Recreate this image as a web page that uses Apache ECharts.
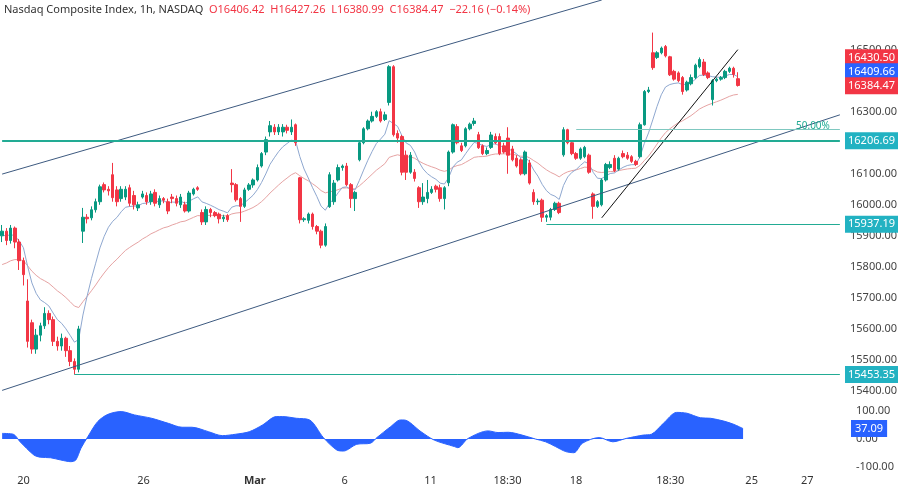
<!DOCTYPE html>
<html><head><meta charset="utf-8">
<script src="https://cdn.jsdelivr.net/npm/echarts@6/dist/echarts.min.js"></script>
<style>html,body{margin:0;padding:0;background:#fff}#c{width:900px;height:487px}</style>
</head><body><div id="c"></div>
<script>
// candles: [open, close, low, high]
const candles = [
[15900,15915,15880,15935],[15915,15885,15870,15925],[15885,15925,15875,15935],[15925,15880,15860,15930],
[15880,15820,15790,15890],[15820,15775,15740,15830],[15690,15560,15540,15760],[15620,15535,15520,15630],
[15535,15580,15520,15600],[15580,15610,15560,15620],[15610,15650,15600,15670],[15650,15630,15615,15660],
[15630,15560,15545,15640],[15560,15545,15530,15575],[15545,15570,15530,15585],[15570,15530,15510,15575],
[15530,15495,15480,15545],[15495,15470,15453,15505],[15470,15600,15460,15610],
[15915,15960,15877,15990],[15960,15955,15940,15970],[15958,15984,15950,15995],[15984,16010,15975,16020],
[16010,16058,16000,16065],[16065,16048,16040,16072],[16050,16045,16030,16060],[16097,16023,16010,16135],
[16048,16010,15995,16060],[16020,16050,16010,16060],[16025,16050,16015,16060],[16055,16005,15995,16065],
[16030,16000,15985,16045],[15990,16000,15980,16010],[16025,16035,16020,16045],[16030,16010,16000,16040],
[16010,16035,16000,16045],[16040,16005,15995,16050],[16000,16020,15990,16030],[16020,16015,16005,16025],
[16010,15980,15970,16020],[16025,16020,16005,16035],[16020,16005,15995,16030],[16000,16025,15990,16035],
[16000,15980,15975,16010],[15980,16038,15975,16045],[16035,16050,16030,16055],[16055,16050,16045,16060],
[15975,15945,15935,15985],[15945,15985,15935,15995],[15985,15975,15960,15990],[15975,15965,15960,15980],
[15970,15955,15940,15975],[15955,15960,15945,15968],[15965,15952,15945,15970],[16070,16065,16040,16115],
[16065,16016,16010,16070],[16020,15995,15945,16025],[15995,16048,15990,16055],[16050,16064,16045,16070],
[16064,16080,16055,16085],[16080,16120,16075,16130],[16125,16165,16120,16170],[16170,16210,16160,16220],
[16235,16255,16220,16270],[16250,16235,16225,16260],[16235,16250,16225,16260],[16235,16250,16220,16260],
[16250,16240,16230,16258],[16235,16250,16225,16275],[16258,16200,16190,16262],[16087,15952,15940,16090],
[15952,15955,15945,15960],[15950,15970,15940,15975],[15970,15930,15920,15975],[15930,15915,15905,15935],
[15915,15870,15860,15920],[15870,15930,15865,15940],[15994,16097,15990,16105],[16010,16070,16000,16080],
[16080,16120,16075,16130],[16120,16125,16110,16130],[16125,16065,16060,16135],[16065,16020,15990,16070],
[16020,16040,15980,16045],[16145,16200,16140,16205],[16200,16245,16195,16250],[16245,16270,16240,16275],
[16270,16285,16265,16300],[16285,16300,16280,16305],[16300,16270,16265,16310],[16275,16290,16270,16300],
[16330,16445,16320,16450],[16445,16226,16220,16450],[16230,16215,16200,16240],[16220,16105,16095,16225],
[16160,16105,16080,16175],[16105,16160,16100,16170],[16105,16085,16075,16115],[16055,16010,15990,16060],
[16010,16025,16000,16070],[16020,16040,16005,16080],[16040,16050,16035,16060],[16060,16050,16040,16065],
[16055,16020,16010,16065],[16020,16055,15985,16060],[16071,16170,16060,16175],[16170,16258,16165,16262],
[16252,16200,16195,16260],[16190,16175,16170,16200],[16190,16245,16185,16250],[16245,16260,16240,16265],
[16262,16270,16255,16280],[16226,16184,16180,16235],[16190,16165,16160,16195],[16165,16175,16160,16185],
[16185,16225,16180,16235],[16220,16200,16195,16230],[16220,16165,16160,16230],[16190,16170,16165,16200],
[16215,16160,16100,16250],[16180,16145,16140,16190],[16150,16125,16120,16160],[16145,16100,16095,16150],
[16100,16170,16095,16175],[16135,16070,16065,16145],[16040,16010,16000,16050],[16010,16012,16000,16020],
[16015,15960,15945,16020],[15960,15965,15945,15970],[15960,15985,15950,15990],[15985,16005,15980,16010],
[16005,15975,15970,16010],[16161,16242,16155,16250],[16242,16200,16195,16245],[16200,16165,16160,16205],
[16165,16150,16145,16170],[16150,16180,16145,16185],[16155,16185,16150,16190],[16160,16105,16100,16165],
[16035,15995,15955,16040],[15995,16010,15990,16015],[16000,16080,15995,16085],[16080,16130,16075,16135],
[16120,16130,16115,16140],[16150,16110,16105,16160],[16115,16150,16110,16155],[16165,16155,16150,16175],
[16160,16150,16145,16170],[16155,16140,16135,16160],[16140,16130,16125,16145],[16155,16258,16150,16265],
[16258,16365,16255,16370],[16365,16370,16360,16380],[16490,16442,16435,16555],[16475,16490,16470,16495],
[16490,16505,16485,16510],[16510,16480,16475,16515],[16477,16419,16415,16480],[16430,16405,16400,16435],
[16425,16400,16395,16430],[16410,16365,16355,16415],[16370,16395,16365,16400],[16390,16410,16385,16420],
[16410,16450,16405,16455],[16445,16468,16440,16475],[16460,16420,16415,16470],[16425,16410,16405,16430],
[16339,16400,16320,16405],[16400,16405,16395,16410],[16405,16410,16400,16415],[16410,16430,16405,16435],
[16430,16440,16425,16445],[16440,16420,16410,16445],[16406.42,16384.47,16380.99,16427.26]
];
const totalSlots = 198;
// oscillator points: [candle index, value]
const oscPoints = [[0,20],[2.6,17],[4.2,-10],[7.4,-57],[8.9,-65],[11.3,-67],[13.7,-75],[16,-81],[17.2,-75],
[18.4,-33],[20,8],[22.3,62],[24.7,88],[27.8,98],[30.9,86],[34.9,74],[38.8,56],[42,42],[44.3,42],[48.2,26],
[51.4,12],[54.5,17],[57.7,26],[60.8,50],[64,80],[65.5,80],[68.7,74],[71.8,68],[75,5],[78.1,-39],[79.7,-43],
[82.8,-19],[86,-15],[87.5,5],[90.7,44],[93,68],[93.8,68],[97.8,26],[100.9,-4],[105.6,-27],[106.4,-31],
[108.8,2],[113.5,29],[115.8,23],[118.2,24],[121.4,14],[124.5,0],[126.9,-10],[129.2,-27],[131.6,-45],
[133.5,-49],[135.5,-15],[139.4,5],[142.6,-10],[145.7,2],[149.7,14],[151.6,17],[154.4,56],[157.5,95],
[159.9,92],[163,76],[165.4,74],[168.5,64],[170.9,52],[173,37.09]];
const timeTicks = [5,33,59,80,100,118,134,156,175,188];
const timeLabels = ['20','26','Mar','6','11','18:30','18','18:30','25','27'];
const priceTicks = [15400,15500,15600,15700,15800,15900,16000,16100,16200,16300,16400,16500,16600];
const levels = {sup1:16206.69, sup2:15937.19, sup3:15453.35, fib50:16242};
// right-edge value tags: [text value, displayed level (tags are stacked apart so they don't overlap)]
const lastTags = [[16430.50,16474],[16409.66,16429],[16384.47,16384]];

const cats = Array.from({length: totalSlots}, (_, i) => i);
const closes = candles.map(c => c[1]);
function ema(period, seed){ const k=2/(period+1); let e=seed; return closes.map(c=>{e=c*k+e*(1-k);return +e.toFixed(2);}); }
const emaFast = ema(9, 15900), emaSlow = ema(30, 15800);

const UP='#089981', DN='#f23645', TEAL='#22ab94', CH='#3d5a80', TAG='#22b2c2';
const F='"Noto Sans", sans-serif';
const last = totalSlots-1;
const priceTag = (v, bg, at) => ({yAxis:(at===undefined?v:at), lineStyle:{color:'rgba(0,0,0,0)', width:0}, label:{show:true, position:'end', formatter:v.toFixed(2), color:'#fff', backgroundColor:bg, padding:[3,3], fontSize:11, fontFamily:F, distance:3}});

const chart = echarts.init(document.getElementById('c'));
chart.setOption({
  animation:false, backgroundColor:'#fff',
  grid:[{left:0,right:52,top:0,height:391},{left:0,right:52,top:411,height:56}],
  xAxis:[
    {type:'category', data:cats, gridIndex:0, boundaryGap:true, axisLine:{show:false}, axisTick:{show:false}, axisLabel:{show:false}, splitLine:{show:false}},
    {type:'value', gridIndex:1, min:-0.5, max:totalSlots-0.5, axisLine:{show:false}, axisTick:{show:false}, splitLine:{show:false},
     axisLabel:{customValues:timeTicks, fontSize:11, fontFamily:F, color:'#333', margin:8,
       formatter:v=>{const i=timeTicks.indexOf(v); const t=timeLabels[i]; return t==='Mar'?'{b|Mar}':t;}, rich:{b:{fontWeight:'bold',fontSize:11,fontFamily:F,color:'#333'}}}}
  ],
  yAxis:[
    {type:'value', gridIndex:0, position:'right', min:15400, max:16660, interval:100,
     axisLine:{show:false}, axisTick:{show:false}, splitLine:{show:false},
     axisLabel:{showMaxLabel:false, fontSize:11, fontFamily:F, color:'#444', margin:8, formatter:v=>v.toFixed(2), customValues:priceTicks}},
    {type:'value', gridIndex:1, position:'right', min:-100, max:100, interval:100,
     axisLine:{show:false}, axisTick:{show:false}, splitLine:{show:false},
     axisLabel:{fontSize:11, fontFamily:F, color:'#444', margin:8, formatter:v=>v.toFixed(2)}}
  ],
  series:[
    {type:'line', xAxisIndex:0, yAxisIndex:0, data:emaSlow, symbol:'none', lineStyle:{color:'#e6a3a3', width:1}, z:1},
    {type:'line', xAxisIndex:0, yAxisIndex:0, data:emaFast, symbol:'none', lineStyle:{color:'#8fa8d0', width:1}, z:1},
    {type:'candlestick', xAxisIndex:0, yAxisIndex:0, data:candles, barWidth:3,
     itemStyle:{color:UP, color0:DN, borderColor:UP, borderColor0:DN, borderWidth:1}, z:3,
     markLine:{symbol:'none', silent:true, animation:false, label:{show:false}, precision:2,
       data:[
         [{coord:[0,16099], lineStyle:{color:CH,width:1,type:'solid'}},{coord:[141,16660]}],
         [{coord:[0,15402], lineStyle:{color:CH,width:1,type:'solid'}},{coord:[last,16290]}],
         [{coord:[141,15958], lineStyle:{color:'#111',width:1,type:'solid'}},{coord:[173,16500]}],
         [{coord:[0,levels.sup1], lineStyle:{color:TEAL,width:2,type:'solid'}},{coord:[last,levels.sup1]}],
         [{coord:[128,levels.sup2], lineStyle:{color:TEAL,width:1,type:'solid'}},{coord:[last,levels.sup2]}],
         [{coord:[17,levels.sup3], lineStyle:{color:TEAL,width:1,type:'solid'}},{coord:[last,levels.sup3]}],
         [{coord:[135,levels.fib50], lineStyle:{color:'#7fc8c0',width:1,type:'solid'}, label:{show:true,position:'insideEndTop',formatter:'50.00%',color:TEAL,fontSize:10,fontFamily:F,distance:[10,-1]}},{coord:[last,levels.fib50]}],
         priceTag(lastTags[0][0], DN, lastTags[0][1]), priceTag(lastTags[1][0], '#2962ff', lastTags[1][1]), priceTag(lastTags[2][0], DN, lastTags[2][1]),
         priceTag(levels.sup1, TAG), priceTag(levels.sup2, TAG), priceTag(levels.sup3, TAG)
       ]}},
    {type:'line', xAxisIndex:1, yAxisIndex:1, data:oscPoints, symbol:'none', smooth:0.3,
     lineStyle:{color:'#2962ff', width:1}, areaStyle:{color:'#2962ff', opacity:1, origin:0},
     markLine:{symbol:'none', silent:true, animation:false, data:[
       {yAxis:37.09, lineStyle:{color:'rgba(0,0,0,0)', width:0}, label:{show:true, position:'end', formatter:'37.09', color:'#fff', backgroundColor:'#2962ff', padding:[3,4], fontSize:11, fontFamily:F, distance:3}}]}}
  ],
  graphic:[{type:'text', left:4, top:4, style:{
    text:'Nasdaq Composite Index, 1h, NASDAQ  {r|O16406.42}  {r|H16427.26}  {r|L16380.99}  {r|C16384.47}  {r|−22.16 (−0.14%)}',
    fontSize:11, fontFamily:F, fill:'#333', rich:{r:{fill:DN, fontSize:11, fontFamily:F}}}}]
});
</script></body></html>
